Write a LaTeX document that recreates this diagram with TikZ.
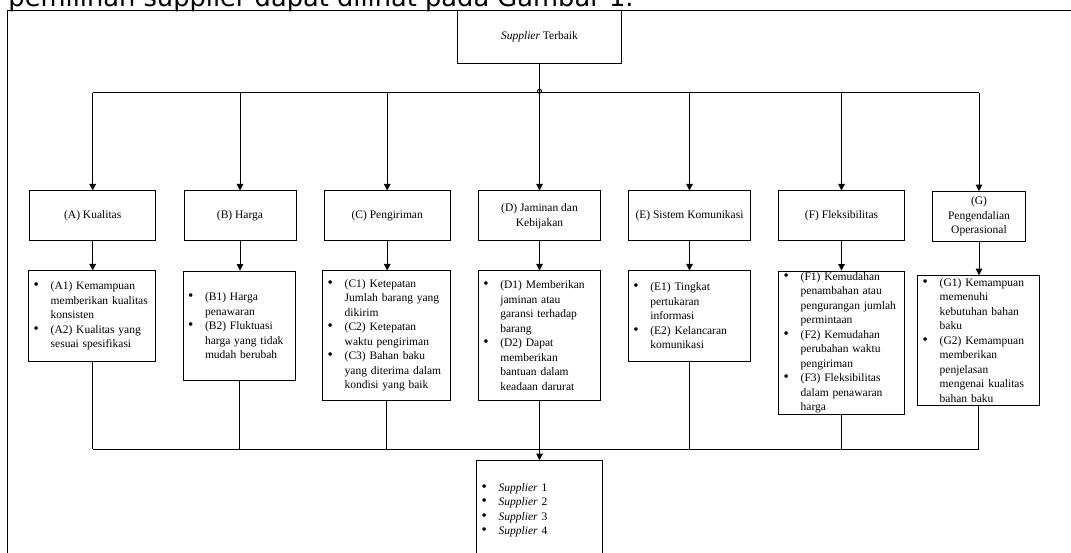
\documentclass[tikz,border=0pt]{standalone}
\usepackage{fontspec}
\setmainfont{Liberation Serif}
\newfontfamily\halfont{DejaVu Sans}
\usetikzlibrary{arrows.meta}
\newcommand{\butir}[1]{\noindent\hangindent=17pt\hangafter=1\makebox[17pt][l]{\fontsize{15}{14.5}\selectfont\textbullet}#1\par}

\begin{document}
\begin{tikzpicture}[x=1pt,y=-1pt,line width=1pt,>={Triangle[length=6.5pt,width=6.5pt]},
    kotak/.style={draw,align=center,inner sep=2pt,font=\fontsize{11.5}{14.5}\selectfont},
    rincian/.style={draw,align=left,inner xsep=5pt,inner ysep=0pt,font=\fontsize{11.5}{14.5}\selectfont}]
    \useasboundingbox (0,0) rectangle (1071,553);

    % teks halaman dan bingkai
    \node[anchor=base west,inner sep=0,font=\halfont\fontsize{25.7}{30}\selectfont] (hal) at (8,7) {pemilihan supplier dapat dilihat pada Gambar 1.};
    \draw (7.3,560) -- (7.3,11) -- (1080,11);

    \node[kotak,minimum width=164.4,minimum height=52.6] (top) at (539.5,37) {\textit{Supplier} Terbaik};

    \begin{scope}[every node/.style={kotak,minimum height=50}]
        \node[minimum width=126] (tA) at (92.7,216) {(A) Kualitas};
        \node[minimum width=112] (tB) at (240,216) {(B) Harga};
        \node[minimum width=125.7] (tC) at (387.2,216) {(C) Pengiriman};
        \node[minimum width=122.4] (tD) at (539.5,216) {(D) Jaminan dan\\Kebijakan};
        \node[minimum width=122.4] (tE) at (689.5,216) {(E) Sistem Komunikasi};
        \node[minimum width=125.6] (tF) at (841.5,216) {(F) Fleksibilitas};
        \node[minimum width=93.4] (tG) at (979,216.7) {(G)\\Pengendalian\\Operasional};
    \end{scope}

    \begin{scope}[every node/.style={rincian}]
        \node[text width=117,minimum height=90] (sA) at (92.2,316) {\butir{(A1) Kemampuan\newline memberikan kualitas\newline konsisten}\butir{(A2) Kualitas yang\newline sesuai spesifikasi}};
        \node[text width=102.7,minimum height=109.3] (sB) at (239.4,325.7) {\butir{(B1) Harga\newline penawaran}\butir{(B2) Fluktuasi\newline harga yang tidak\newline mudah berubah}};
        \node[text width=118,minimum height=129] (sC) at (386.7,335.5) {\butir{(C1) Ketepatan\newline Jumlah barang yang\newline dikirim}\butir{(C2) Ketepatan\newline waktu pengiriman}\butir{(C3) Bahan baku\newline yang diterima dalam\newline kondisi yang baik}};
        \node[text width=112.4,minimum height=129] (sD) at (539.5,335.5) {\butir{(D1) Memberikan\newline jaminan atau\newline garansi terhadap\newline barang}\butir{(D2) Dapat\newline memberikan\newline bantuan dalam\newline keadaan darurat}};
        \node[text width=112.4,minimum height=90] (sE) at (689.5,316) {\butir{(E1) Tingkat\newline pertukaran\newline informasi}\butir{(E2) Kelancaran\newline komunikasi}};
        \node[text width=115.6,minimum height=143.3] (sF) at (841.5,342.7) {\butir{(F1) Kemudahan\newline penambahan atau\newline pengurangan jumlah\newline permintaan}\butir{(F2) Kemudahan\newline perubahan waktu\newline pengiriman}\butir{(F3) Fleksibilitas\newline dalam penawaran\newline harga}};
        \node[text width=111.6,minimum height=129.3] (sG) at (978.5,340.4) {\butir{(G1) Kemampuan\newline memenuhi\newline kebutuhan bahan\newline baku}\butir{(G2) Kemampuan\newline memberikan\newline penjelasan\newline mengenai kualitas\newline bahan baku}};
        \node[text width=115.6,minimum height=98.6] (hasil) at (539.5,510) {\butir{\textit{Supplier} 1}\butir{\textit{Supplier} 2}\butir{\textit{Supplier} 3}\butir{\textit{Supplier} 4}};
    \end{scope}

    \coordinate (atas) at (539.5,92.7);
    \coordinate (bawah) at (539.5,449);
    \draw (top) -- (atas);
    \draw (atas) ++(0,-1.5) circle (2);
    \draw (tA.north |- atas) -- (tG.north |- atas);
    \foreach \k in {A,...,G} {
        \draw[->] (t\k.north |- atas) -- (t\k.north);
        \draw[->] (t\k.south) -- (t\k.south |- s\k.north);
        \draw (s\k.south) -- (s\k.south |- bawah);
    }
    \draw (tA.south |- bawah) -- (tG.south |- bawah);
    \draw[->] (bawah) -- (hasil.north);
\end{tikzpicture}
\end{document}
